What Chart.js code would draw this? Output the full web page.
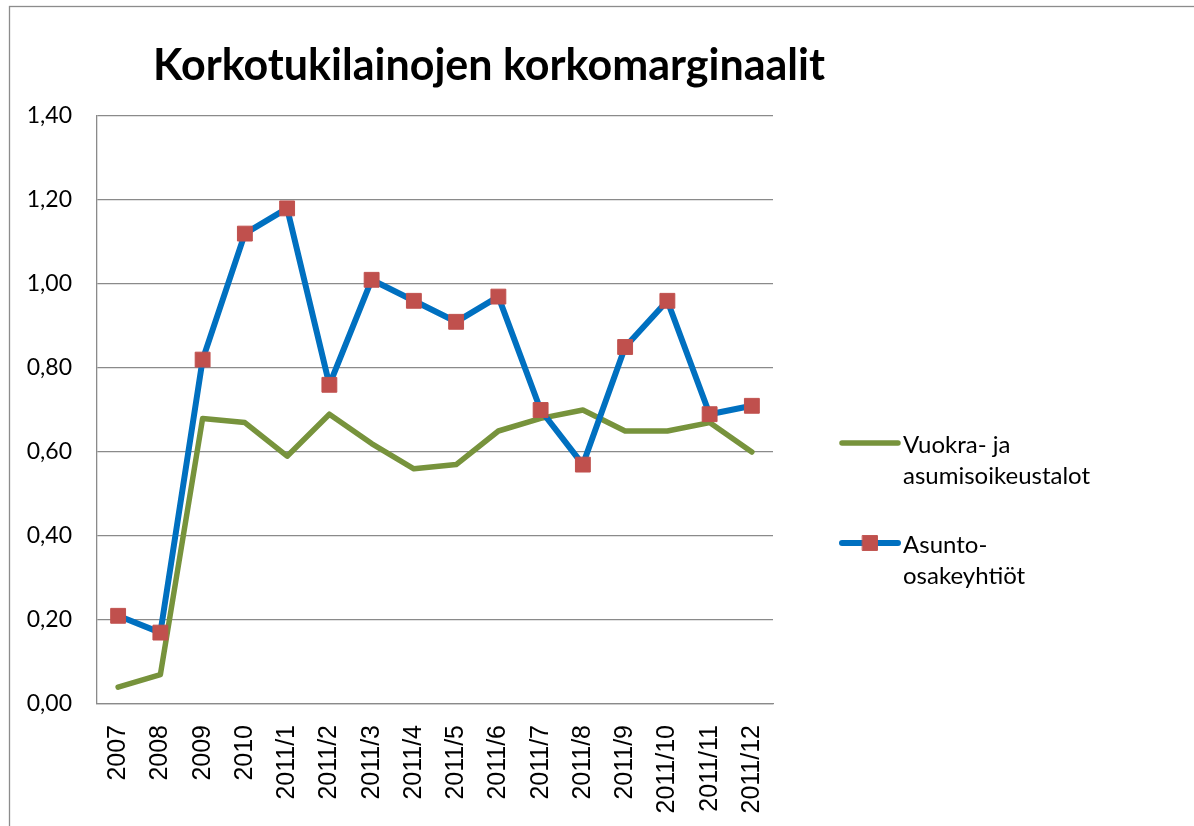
<!DOCTYPE html>
<html>
<head>
<meta charset="utf-8">
<script src="https://cdn.jsdelivr.net/npm/chart.js@4/dist/chart.umd.min.js"></script>
<style>
  html, body { margin: 0; padding: 0; background: #ffffff; }
  #wrap { position: relative; width: 1194px; height: 826px; }
  canvas { display: block; }
</style>
</head>
<body>
<div id="wrap"><canvas id="c" width="1194" height="826"></canvas></div>
<script>
const titleText = 'Korkotukilainojen korkomarginaalit';
const categories = ['2007','2008','2009','2010','2011/1','2011/2','2011/3','2011/4','2011/5','2011/6','2011/7','2011/8','2011/9','2011/10','2011/11','2011/12'];
const vuokraValues = [0.04, 0.07, 0.68, 0.67, 0.59, 0.69, 0.62, 0.56, 0.57, 0.65, 0.68, 0.70, 0.65, 0.65, 0.67, 0.60];
const asuntoValues = [0.21, 0.17, 0.82, 1.12, 1.18, 0.76, 1.01, 0.96, 0.91, 0.97, 0.70, 0.57, 0.85, 0.96, 0.69, 0.71];
const vuokraLabel = ['Vuokra- ja', 'asumisoikeustalot'];
const asuntoLabel = ['Asunto-', 'osakeyhtiöt'];
const yTicks = [0, 0.2, 0.4, 0.6, 0.8, 1.0, 1.2, 1.4];

const GREEN = '#77933C';
const BLUE = '#0070C0';
const RED = '#C0504D';
const GRID = '#8a8a8a';

const bgPlugin = {
  id: 'bgBorder',
  beforeDraw(chart) {
    const ctx = chart.ctx;
    ctx.save();
    ctx.fillStyle = '#ffffff';
    ctx.fillRect(0, 0, chart.width, chart.height);
    ctx.strokeStyle = '#8c8c8c';
    ctx.lineWidth = 1.3;
    ctx.strokeRect(9.5, 6.5, chart.width + 20, chart.height + 20);
    ctx.restore();
  }
};

const titlePlugin = {
  id: 'customTitle',
  afterDraw(chart) {
    const ctx = chart.ctx;
    ctx.save();
    ctx.fillStyle = '#000000';
    ctx.font = 'bold 43px Lato';
    ctx.textAlign = 'center';
    ctx.textBaseline = 'alphabetic';
    ctx.fillText(titleText, 489, 80);
    ctx.restore();
  }
};

const legendPlugin = {
  id: 'customLegend',
  afterDraw(chart) {
    const ctx = chart.ctx;
    const items = [
      { ds: chart.data.datasets[0], lines: vuokraLabel, y: 443 },
      { ds: chart.data.datasets[1], lines: asuntoLabel, y: 543 }
    ];
    ctx.save();
    items.forEach(it => {
      ctx.strokeStyle = it.ds.borderColor;
      ctx.lineWidth = it.ds.borderWidth;
      ctx.lineCap = 'round';
      ctx.beginPath();
      ctx.moveTo(842, it.y);
      ctx.lineTo(898, it.y);
      ctx.stroke();
      if (it.ds.pointRadius > 0) {
        ctx.fillStyle = it.ds.pointBackgroundColor;
        ctx.strokeStyle = it.ds.pointBorderColor;
        ctx.lineWidth = it.ds.pointBorderWidth;
        ctx.beginPath();
        const s = it.ds.pointRadius * Math.SQRT1_2;
        ctx.rect(870 - s, it.y - s, 2 * s, 2 * s);
        ctx.fill();
        ctx.stroke();
      }
      ctx.fillStyle = '#000000';
      ctx.font = '24px Lato';
      ctx.textAlign = 'left';
      ctx.textBaseline = 'alphabetic';
      it.lines.forEach((t, i) => ctx.fillText(t, 903, it.y + 9.5 + i * 31.5));
    });
    ctx.restore();
  }
};

new Chart(document.getElementById('c'), {
  type: 'line',
  data: {
    labels: categories,
    datasets: [
      {
        label: vuokraLabel.join(' '),
        data: vuokraValues,
        borderColor: GREEN,
        backgroundColor: GREEN,
        borderWidth: 5.5,
        pointRadius: 0,
        pointHoverRadius: 0,
        tension: 0,
        borderJoinStyle: 'round',
        borderCapStyle: 'round',
        order: 1
      },
      {
        label: asuntoLabel.join(' '),
        data: asuntoValues,
        borderColor: BLUE,
        backgroundColor: BLUE,
        borderWidth: 6,
        pointStyle: 'rect',
        pointRadius: 10.5,
        pointBackgroundColor: RED,
        pointBorderColor: RED,
        pointBorderWidth: 1,
        tension: 0,
        borderJoinStyle: 'round',
        order: 0
      }
    ]
  },
  options: {
    responsive: false,
    animation: false,
    layout: { padding: { left: 0, right: 421, top: 116, bottom: 0 } },
    plugins: {
      legend: { display: false },
      title: { display: false },
      tooltip: { enabled: false }
    },
    scales: {
      x: {
        offset: true,
        grid: { display: false, drawTicks: false },
        border: { display: true, color: GRID, width: 1.3 },
        ticks: {
          autoSkip: false,
          maxRotation: 90,
          minRotation: 90,
          padding: 21,
          color: '#000000',
          font: { family: '"Liberation Sans", Arial, sans-serif', size: 25 }
        },
        afterFit(scale) { scale.height = 122; }
      },
      y: {
        min: 0,
        max: 1.4,
        afterBuildTicks(scale) { scale.ticks = yTicks.map(v => ({ value: v })); },
        grid: { color: GRID, lineWidth: 1.3, drawTicks: false },
        border: { display: true, color: GRID, width: 1.3 },
        ticks: {
          padding: 25,
          color: '#000000',
          font: { family: 'Lato', size: 23 },
          callback: v => Number(v).toFixed(2).replace('.', ',')
        },
        afterFit(scale) { scale.width = 97; }
      }
    }
  },
  plugins: [bgPlugin, titlePlugin, legendPlugin]
});
</script>
</body>
</html>
